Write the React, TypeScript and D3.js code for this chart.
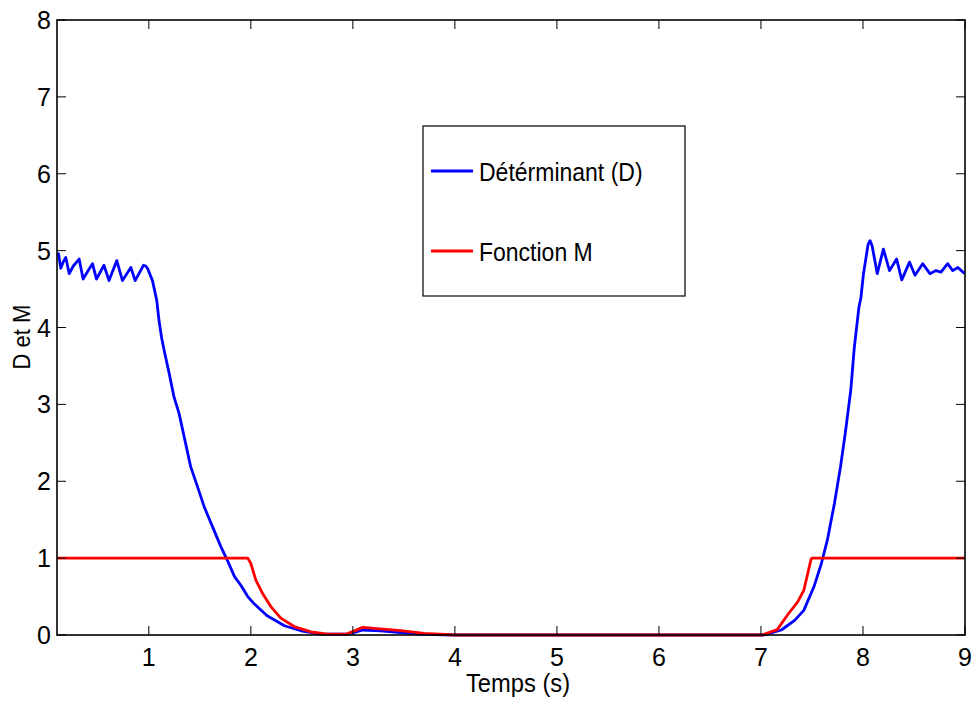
import React from "react";
import * as d3 from "d3";

const tD = [0.1,0.115,0.137,0.16,0.186,0.22,0.26,0.317,0.356,0.415,0.448,0.487,0.56,0.61,0.686,0.742,0.824,0.866,0.948,0.97,0.99,1.036,1.078,1.1,1.125,1.157,1.2,1.248,1.297,1.346,1.41,1.477,1.542,1.624,1.706,1.77,1.84,1.9,1.97,2.03,2.16,2.33,2.49,2.69,2.95,3.03,3.1,3.27,3.47,3.7,4.0,7.0,7.03,7.2,7.33,7.42,7.52,7.59,7.65,7.72,7.78,7.83,7.88,7.915,7.96,7.98,8.005,8.05,8.07,8.09,8.14,8.2,8.26,8.33,8.38,8.456,8.51,8.585,8.656,8.716,8.765,8.83,8.88,8.93,8.98,9.0];
const vD = [4.93,4.96,4.77,4.85,4.91,4.7,4.8,4.89,4.63,4.76,4.83,4.63,4.81,4.61,4.87,4.61,4.78,4.61,4.81,4.8,4.76,4.61,4.35,4.09,3.87,3.66,3.4,3.09,2.88,2.58,2.19,1.93,1.67,1.41,1.15,0.97,0.76,0.65,0.5,0.41,0.25,0.12,0.055,0.013,0.01,0.04,0.065,0.055,0.03,0.01,0,0,0,0.065,0.19,0.32,0.63,0.92,1.23,1.71,2.19,2.66,3.18,3.74,4.26,4.39,4.7,5.08,5.13,5.06,4.7,5.02,4.74,4.89,4.62,4.85,4.68,4.83,4.7,4.74,4.72,4.83,4.74,4.78,4.72,4.7];

const tM = [0.1,1.97,2.0,2.05,2.115,2.196,2.294,2.425,2.59,2.75,2.93,3.03,3.095,3.27,3.47,3.7,4.0,7.01,7.16,7.26,7.36,7.42,7.49,7.5,9.0];
const vM = [1,1,0.93,0.71,0.54,0.37,0.22,0.11,0.04,0.01,0.01,0.06,0.1,0.08,0.056,0.02,0,0,0.07,0.26,0.43,0.58,0.98,1,1];

const xTicks = [1,2,3,4,5,6,7,8,9];
const yTicks = [0,1,2,3,4,5,6,7,8];
const seriesNames = ["Détérminant (D)", "Fonction M"];
const seriesColors = ["#0000ff", "#ff0000"];
const xLabel = "Temps (s)";
const yLabel = "D et M";

export default function App() {
  const W = 973, H = 702;
  const L = 57, R = 965, T = 20, B = 635;
  const x = d3.scaleLinear().domain([0.1, 9]).range([L, R]);
  const y = d3.scaleLinear().domain([0, 8]).range([B, T]);
  const line = d3.line<[number, number]>().x(d => x(d[0])).y(d => y(d[1]));
  const dD = line(tD.map((t, i) => [t, vD[i]] as [number, number])) || "";
  const dM = line(tM.map((t, i) => [t, vM[i]] as [number, number])) || "";
  const font = "'Liberation Sans', Arial, sans-serif";
  const tl = 9;
  return (
    <svg width={W} height={H} style={{ position: "absolute", left: 0, top: 0, background: "#fff" }} fontFamily={font}>
      <rect x={0} y={0} width={W} height={H} fill="#fff" />
      <defs>
        <clipPath id="clip"><rect x={L} y={T - 2} width={R - L} height={B - T + 4} /></clipPath>
      </defs>
      <g clipPath="url(#clip)">
        <path d={dD} fill="none" stroke={seriesColors[0]} strokeWidth={2.8} strokeLinejoin="round" />
        <path d={dM} fill="none" stroke={seriesColors[1]} strokeWidth={2.8} strokeLinejoin="round" />
      </g>
      <rect x={L} y={T} width={R - L} height={B - T} fill="none" stroke="#000" strokeWidth={1.6} />
      {xTicks.map(t => (
        <g key={"x" + t}>
          <line x1={x(t)} x2={x(t)} y1={B} y2={B - tl} stroke="#000" strokeWidth={1} />
          <line x1={x(t)} x2={x(t)} y1={T} y2={T + tl} stroke="#000" strokeWidth={1} />
          <text x={x(t)} y={666} fontSize={25} textAnchor="middle">{t}</text>
        </g>
      ))}
      {yTicks.map(t => (
        <g key={"y" + t}>
          <line x1={L} x2={L + tl} y1={y(t)} y2={y(t)} stroke="#000" strokeWidth={1} />
          <line x1={R} x2={R - tl} y1={y(t)} y2={y(t)} stroke="#000" strokeWidth={1} />
          <text x={51} y={y(t) + 9} fontSize={25} textAnchor="end">{t}</text>
        </g>
      ))}
      <text transform="translate(518,692) scale(0.95,1)" fontSize={25} textAnchor="middle">{xLabel}</text>
      <text transform="translate(30,337) rotate(-90) scale(0.92,1)" fontSize={24} textAnchor="middle">{yLabel}</text>
      <rect x={423} y={126} width={262} height={170} fill="#fff" stroke="#000" strokeWidth={1.2} />
      {seriesNames.map((n, i) => {
        const ly = i === 0 ? 171 : 251;
        return (
          <g key={n}>
            <line x1={431} x2={473} y1={ly} y2={ly} stroke={seriesColors[i]} strokeWidth={2.8} />
            <text transform={`translate(479,${ly + 9.5}) scale(0.92,1)`} fontSize={25}>{n}</text>
          </g>
        );
      })}
    </svg>
  );
}
